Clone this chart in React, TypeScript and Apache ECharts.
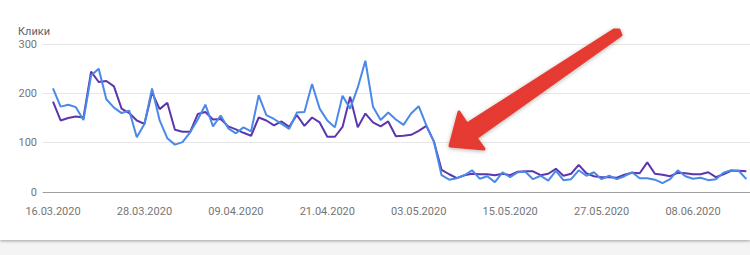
import React, { useEffect, useRef } from "react";
import * as echarts from "echarts";

// Day offsets from 16.03.2020 that carry a date label on the x axis
const xTickDays = [0, 12, 24, 36, 48, 60, 72, 84];
const xTickLabels = [
  "16.03.2020",
  "28.03.2020",
  "09.04.2020",
  "21.04.2020",
  "03.05.2020",
  "15.05.2020",
  "27.05.2020",
  "08.06.2020",
];

const yTicks = [0, 100, 200, 300];

// Daily clicks, 16.03.2020 – 15.06.2020
const clicksPurple = [
  183, 145, 150, 153, 151, 244, 223, 225, 214, 169,
  160, 145, 138, 202, 168, 181, 126, 122, 122, 158,
  162, 147, 148, 133, 127, 120, 114, 151, 145, 135,
  143, 132, 156, 134, 151, 141, 112, 112, 132, 193,
  131, 159, 141, 133, 143, 113, 114, 116, 124, 134,
  102, 45, 36, 28, 34, 37, 36, 36, 34, 37,
  34, 41, 42, 42, 34, 37, 47, 33, 37, 55,
  38, 32, 30, 30, 29, 35, 39, 38, 60, 37,
  35, 32, 39, 38, 36, 36, 40, 30, 36, 43,
  43, 42,
];

const clicksBlue = [
  210, 173, 177, 172, 146, 236, 250, 188, 171, 160,
  165, 111, 138, 210, 145, 109, 96, 101, 121, 147,
  177, 133, 155, 129, 119, 131, 123, 196, 156, 148,
  138, 128, 161, 162, 219, 169, 145, 131, 195, 169,
  212, 266, 173, 146, 161, 147, 136, 159, 174, 135,
  102, 34, 25, 28, 34, 44, 27, 32, 20, 40,
  30, 40, 41, 26, 33, 23, 43, 24, 26, 44,
  33, 40, 26, 33, 26, 32, 40, 28, 28, 25,
  18, 26, 44, 32, 27, 29, 24, 26, 39, 44,
  43, 26,
];

const toPairs = (values: number[]) => values.map((v, i) => [i, v]);

export default function App() {
  const ref = useRef<HTMLDivElement>(null);

  useEffect(() => {
    if (!ref.current) return;
    const chart = echarts.init(ref.current, null, { renderer: "svg" });
    const font = "Roboto, Arial, sans-serif";

    chart.setOption({
      animation: false,
      backgroundColor: "#ffffff",
      title: {
        text: "Клики",
        left: 13,
        top: 21,
        textStyle: {
          fontFamily: font,
          fontSize: 11,
          fontWeight: "normal",
          color: "#5f6368",
        },
      },
      grid: { left: 43, right: 0, top: 44, bottom: 48 },
      xAxis: {
        type: "value",
        min: -1.3125,
        max: 91.48,
        axisLine: { show: true, lineStyle: { color: "#9e9e9e", width: 1 } },
        axisTick: { show: false },
        splitLine: { show: false },
        axisLabel: {
          customValues: xTickDays,
          margin: 14,
          fontFamily: font,
          fontSize: 11,
          color: "#757575",
          formatter: (val: number) => {
            const k = xTickDays.indexOf(Math.round(val));
            return k >= 0 ? xTickLabels[k] : "";
          },
        },
      },
      yAxis: {
        type: "value",
        min: yTicks[0],
        max: yTicks[yTicks.length - 1],
        interval: 100,
        axisLine: { show: false },
        axisTick: { show: false },
        splitLine: { lineStyle: { color: "#e6e6e6", width: 1 } },
        axisLabel: {
          margin: 6,
          fontFamily: font,
          fontSize: 11,
          color: "#757575",
        },
      },
      series: [
        {
          type: "line",
          data: toPairs(clicksPurple),
          showSymbol: false,
          symbol: "none",
          lineStyle: { color: "#5b36ad", width: 2 },
          z: 2,
        },
        {
          type: "line",
          data: toPairs(clicksBlue),
          showSymbol: false,
          symbol: "none",
          lineStyle: { color: "#4a89ea", width: 2 },
          z: 3,
        },
      ],
      graphic: [
        {
          type: "polygon",
          z: 100,
          shape: {
            points: [
              [450, 146],
              [459, 112],
              [467, 124],
              [614, 30],
              [619, 30],
              [621, 35],
              [476, 138],
              [484, 149],
            ],
          },
          style: {
            fill: "#e53a30",
            stroke: "#e53a30",
            lineWidth: 3,
            lineJoin: "round",
            shadowBlur: 4,
            shadowOffsetY: 1,
            shadowColor: "rgba(0,0,0,0.3)",
          },
        },
      ],
    });

    return () => chart.dispose();
  }, []);

  return (
    <div
      style={{
        position: "fixed",
        left: 0,
        top: 0,
        width: 750,
        height: 255,
        background: "#f4f4f4",
      }}
    >
      <div
        ref={ref}
        style={{
          width: 750,
          height: 240,
          background: "#ffffff",
          boxShadow: "0 1px 3px rgba(0,0,0,0.35)",
        }}
      />
    </div>
  );
}
